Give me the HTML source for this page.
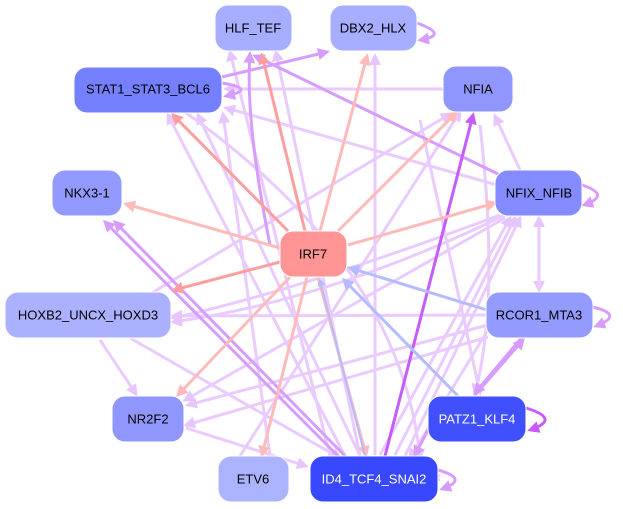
<!DOCTYPE html>
<html><head><meta charset="utf-8"><style>
html,body{margin:0;padding:0;background:#fff;width:623px;height:509px;overflow:hidden}
svg text{font-family:"Liberation Sans",sans-serif;font-size:13px;text-anchor:middle;dominant-baseline:central}
</style></head><body>
<svg width="623" height="509" viewBox="0 0 623 509" xmlns="http://www.w3.org/2000/svg">
<defs>
<marker id="mL" markerWidth="4" markerHeight="4" refX="3" refY="2" orient="auto" markerUnits="strokeWidth"><path d="M0,0L4,2L0,4z" fill="#e6c6ff"/></marker>
<marker id="mP" markerWidth="4" markerHeight="4" refX="3" refY="2" orient="auto" markerUnits="strokeWidth"><path d="M0,0L4,2L0,4z" fill="#d79cff"/></marker>
<marker id="mV" markerWidth="4" markerHeight="4" refX="3" refY="2" orient="auto" markerUnits="strokeWidth"><path d="M0,0L4,2L0,4z" fill="#c65cff"/></marker>
<marker id="mR" markerWidth="4" markerHeight="4" refX="3" refY="2" orient="auto" markerUnits="strokeWidth"><path d="M0,0L4,2L0,4z" fill="#ff9e9e"/></marker>
<marker id="mR2" markerWidth="4" markerHeight="4" refX="3" refY="2" orient="auto" markerUnits="strokeWidth"><path d="M0,0L4,2L0,4z" fill="#ffbaba"/></marker>
<marker id="mB" markerWidth="4" markerHeight="4" refX="3" refY="2" orient="auto" markerUnits="strokeWidth"><path d="M0,0L4,2L0,4z" fill="#b4bcff"/></marker>
</defs>
<g fill="none" stroke-width="3">
<!-- lavender edges -->
<g stroke="#e9cbff" marker-end="url(#mL)">
<path d="M443,89L226,89"/>
<path d="M497,185L226,108"/>
<path d="M375,455L375,56"/>
<path d="M360,456L198,115"/>
<path d="M345,456L168,115"/>
<path d="M270,456L223,114"/>
<path d="M330,456L230,52" />
<path d="M360,456L276,52"/>
<path d="M130,306L450,114"/>
<path d="M240,456L460,112"/>
<path d="M500,215Q300,290 173,318"/>
<path d="M487,315L173,316"/>
<path d="M505,215Q330,300 173,322"/>
<path d="M380,455L510,218"/>
<path d="M395,455L515,218"/>
<path d="M405,456L520,218"/>
<path d="M520,170L495,116"/>
<path d="M500,310L410,458"/>
<path d="M488,337L186,425"/>
<path d="M488,325L188,405"/>
<path d="M505,218L185,400"/>
<path d="M100,340L136,394"/>
<path d="M130,338L340,458"/>
<path d="M186,428L306,466"/>
<path d="M480,125Q500,300 475,393"/>
<path d="M420,120L480,393" />
<path d="M539,218L539,290"/>
<path d="M539,290L539,218"/>
<path d="M172,103Q400,260 420,458"/>
<path d="M440,475L430,478"/>
</g>
<g stroke="#d79cff" marker-end="url(#mP)">
<path d="M222,77L327,52"/>
<path d="M500,175L255,56"/>
<path d="M270,245Q245,120 250,54"/>
<path d="M340,458L105,222"/>
<path d="M345,456L115,222"/>
<path d="M523,336L475,393" />
<path d="M475,395L523,340"/>
<path d="M428,430L415,455"/>
<path d="M222,83Q258,89 226,96" stroke-width="3"/>
<path d="M417,23Q450,35 420,40"/>
<path d="M582,185Q612,195 584,205"/>
<path d="M593,307Q625,315 596,326"/>
<path d="M438,470Q470,479 442,489"/>
</g>
<path d="M385,456L473,115" stroke="#c65cff" marker-end="url(#mV)"/>
<path d="M526,408Q562,419 530,430" stroke="#c65cff" marker-end="url(#mV)"/>
<!-- pink edges -->
<g stroke="#ff9e9e" marker-end="url(#mR)">
<path d="M305,231L262,55"/>
<path d="M288,231L173,115"/>
<path d="M280,262L174,290"/>
</g>
<g stroke="#ffbaba" marker-end="url(#mR2)">
<path d="M320,231L367,56"/>
<path d="M338,231L456,113"/>
<path d="M280,248L126,204"/>
<path d="M348,245L495,203"/>
<path d="M290,277L178,395"/>
<path d="M307,277L262,455"/>
<path d="M318,277L366,455"/>
</g>
<g stroke="#b4bcff" marker-end="url(#mB)">
<path d="M487,310L350,268"/>
<path d="M458,396L344,280"/>
<path d="M365,456L320,280" stroke-width="2"/>
</g>
</g>
<g stroke="#ffffff" stroke-width="1">
<rect x="215" y="5" width="77" height="46" rx="13" fill="#a7adff"/>
<rect x="330" y="5" width="87" height="46" rx="13" fill="#a7adff"/>
<rect x="74" y="67" width="148" height="46" rx="13" fill="#7580ff"/>
<rect x="443" y="66" width="70" height="46" rx="13" fill="#8f97ff"/>
<rect x="52" y="170" width="70" height="46" rx="13" fill="#939aff"/>
<rect x="495" y="170" width="87" height="46" rx="13" fill="#838bff"/>
<rect x="280" y="231" width="67" height="46" rx="13" fill="#ff9494"/>
<rect x="5" y="292" width="166" height="46" rx="13" fill="#abb1ff"/>
<rect x="486" y="292" width="107" height="46" rx="13" fill="#949bff"/>
<rect x="112" y="396" width="72" height="46" rx="13" fill="#8f97ff"/>
<rect x="428" y="396" width="98" height="46" rx="13" fill="#4050ff"/>
<rect x="218" y="456" width="71" height="46" rx="13" fill="#abb3ff"/>
<rect x="310" y="456" width="128" height="46" rx="13" fill="#3848ff"/>
</g>
<g fill="#000">
<text x="253" y="28">HLF_TEF</text>
<text x="373" y="28">DBX2_HLX</text>
<text x="148" y="89">STAT1_STAT3_BCL6</text>
<text x="478" y="89">NFIA</text>
<text x="87" y="193">NKX3-1</text>
<text x="539" y="193">NFIX_NFIB</text>
<text x="313" y="254">IRF7</text>
<text x="88" y="315">HOXB2_UNCX_HOXD3</text>
<text x="539" y="315">RCOR1_MTA3</text>
<text x="148" y="419">NR2F2</text>
<text x="253" y="479">ETV6</text>
</g>
<text x="477" y="419" fill="#fff">PATZ1_KLF4</text>
<text x="374" y="479" fill="#fff">ID4_TCF4_SNAI2</text>
</svg>
</body></html>
